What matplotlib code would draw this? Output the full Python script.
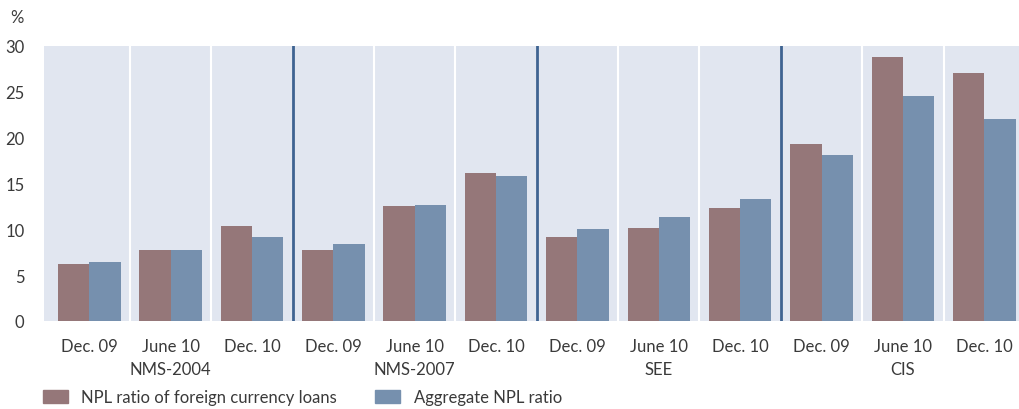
import matplotlib
matplotlib.use("Agg")
import matplotlib.pyplot as plt
import numpy as np
from matplotlib.patches import Patch

plt.rcParams['font.family'] = ['Lato', 'DejaVu Sans']

periods = ["Dec. 09", "June 10", "Dec. 10"]
regions = ["NMS-2004", "NMS-2007", "SEE", "CIS"]
fx_npl = [6.2, 7.8, 10.4, 7.8, 12.5, 16.2, 9.2, 10.2, 12.3, 19.3, 28.8, 27.1]
agg_npl = [6.4, 7.8, 9.2, 8.4, 12.7, 15.8, 10.0, 11.4, 13.3, 18.1, 24.6, 22.0]
series_labels = ["NPL ratio of foreign currency loans", "Aggregate NPL ratio"]

c_fx = "#957779"
c_agg = "#7690ae"
bg = "#e1e6f0"
sep_dark = "#3f6391"
txt = "#3a3a3a"

fig = plt.figure(figsize=(10.2, 4.1), dpi=100)
ax = fig.add_axes([44/1020, 1-322/410, 1-44/1020, 275/410])
ax.set_facecolor(bg)

n = len(fx_npl)
x = np.arange(n)
w = 0.385
ax.bar(x - w/2, fx_npl, w, color=c_fx, zorder=2)
ax.bar(x + w/2, agg_npl, w, color=c_agg, zorder=2)

for i in range(1, n):
    if i % 3 == 0:
        ax.axvline(i - 0.5, color=sep_dark, lw=2, zorder=3)
    else:
        ax.axvline(i - 0.5, color="white", lw=1.5, zorder=1)

ax.set_xlim(-0.558, n - 0.5 - 0.06)
ax.set_ylim(0, 30)
ax.set_yticks(range(0, 31, 5))
labels = []
for g, r in enumerate(regions):
    for j, p in enumerate(periods):
        labels.append(p + "\n" + r if j == 1 else p)
ax.set_xticks(x)
ax.set_xticklabels(labels, fontsize=12, color=txt, linespacing=1.55)
ax.tick_params(axis='both', length=0, labelsize=12, colors=txt)
ax.tick_params(axis='x', pad=12)
ax.tick_params(axis='y', pad=14)
for s in ax.spines.values():
    s.set_visible(False)

fig.text(10/1020, 1-18/410, "%", fontsize=12, color=txt, va='center', ha='left')

handles = [Patch(color=c_fx), Patch(color=c_agg)]
fig.legend(handles, series_labels, loc='center left', bbox_to_anchor=(28/1020, 1-398/410),
           ncol=2, frameon=False, fontsize=12, handlelength=1.5, handleheight=0.8,
           columnspacing=2.3, handletextpad=0.8, labelcolor=txt)

fig.savefig("out.png", dpi=100)
